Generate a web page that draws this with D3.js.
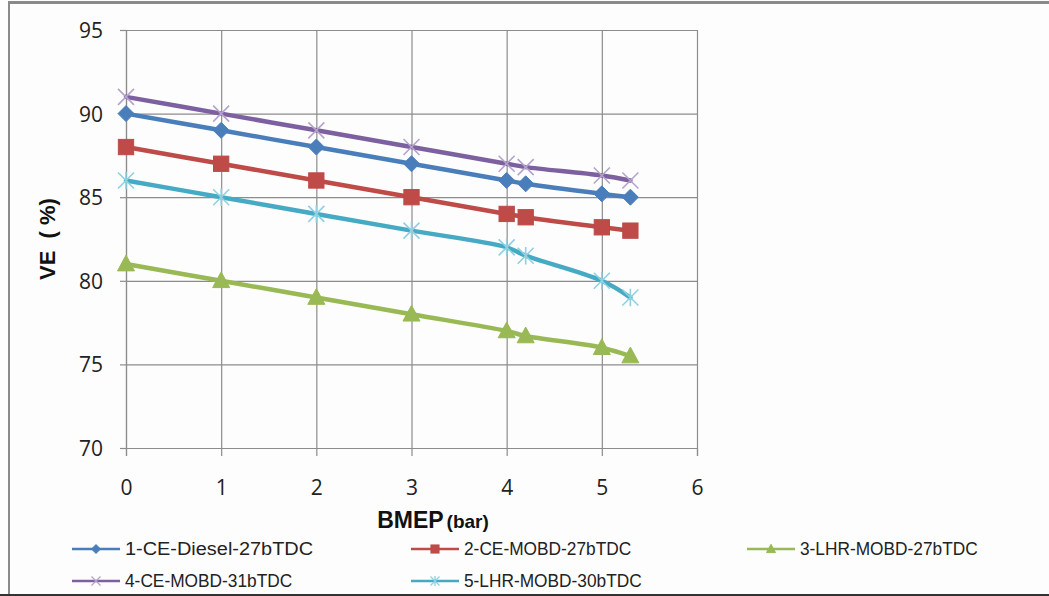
<!DOCTYPE html>
<html>
<head>
<meta charset="utf-8">
<script src="https://cdn.jsdelivr.net/npm/d3@7/dist/d3.min.js"></script>
<style>
  html, body { margin: 0; padding: 0; background: #fff; }
  svg { display: block; }
</style>
</head>
<body>
<svg id="chart" width="1049" height="596"></svg>
<script>
// BMEP load points (bar)
const bmep = [0, 1, 2, 3, 4, 4.2, 5, 5.3];

// Volumetric efficiency (%) for each engine configuration
const seriesNames = [
  "1-CE-Diesel-27bTDC",
  "2-CE-MOBD-27bTDC",
  "3-LHR-MOBD-27bTDC",
  "4-CE-MOBD-31bTDC",
  "5-LHR-MOBD-30bTDC"
];
const ceDiesel27  = [90, 89, 88, 87, 86, 85.8, 85.2, 85];
const ceMobd27    = [88, 87, 86, 85, 84, 83.8, 83.2, 83];
const lhrMobd27   = [81, 80, 79, 78, 77, 76.7, 76.0, 75.5];
const ceMobd31    = [91, 90, 89, 88, 87, 86.8, 86.3, 86];
const lhrMobd30   = [86, 85, 84, 83, 82, 81.5, 80, 79];

const xTicks = [0, 1, 2, 3, 4, 5, 6];
const yTicks = [70, 75, 80, 85, 90, 95];

const seriesValues = [ceDiesel27, ceMobd27, lhrMobd27, ceMobd31, lhrMobd30];
const lineColors   = ["#4a7ebb", "#be4b48", "#98b954", "#7d60a0", "#46aac4"];
const markerFill   = ["#4a7ebb", "#be4b48", "#98b954", "none", "none"];
const markerStroke = ["#4a7ebb", "#be4b48", "#98b954", "#b4a3cc", "#8fd0e2"];
const markerKinds  = ["diamond", "square", "triangle", "cross", "asterisk"];

const svg = d3.select("#chart");

// frame
svg.append("rect").attr("x", 0).attr("y", 0).attr("width", 1049).attr("height", 596).attr("fill", "#fdfdfd");
svg.append("line").attr("x1", 8).attr("x2", 1049).attr("y1", 2.5).attr("y2", 2.5)
  .attr("stroke", "#8a8a8a").attr("stroke-width", 3);
svg.append("line").attr("x1", 9).attr("x2", 9).attr("y1", 1).attr("y2", 596)
  .attr("stroke", "#8a8a8a").attr("stroke-width", 2);
svg.append("line").attr("x1", 0).attr("x2", 1049).attr("y1", 595).attr("y2", 595)
  .attr("stroke", "#333").attr("stroke-width", 2);

const plot = { left: 126, right: 697, top: 30, bottom: 448 };
const x = d3.scaleLinear().domain([0, 6]).range([plot.left, plot.right]);
const y = d3.scaleLinear().domain([70, 95]).range([plot.bottom, plot.top]);

// gridlines via axes
const gridColor = "#8c8c8c";
const yGrid = svg.append("g").attr("transform", `translate(${plot.left},0)`)
  .call(d3.axisLeft(y).tickValues(yTicks).tickSize(-(plot.right - plot.left)).tickFormat(""));
const xGrid = svg.append("g").attr("transform", `translate(0,${plot.bottom})`)
  .call(d3.axisBottom(x).tickValues(xTicks).tickSize(-(plot.bottom - plot.top)).tickFormat(""));
[yGrid, xGrid].forEach(g => {
  g.select(".domain").remove();
  g.selectAll("line").attr("stroke", gridColor).attr("stroke-width", 1.2);
});

// outer tick marks and labels
const yAxis = svg.append("g").attr("transform", `translate(${plot.left},0)`)
  .call(d3.axisLeft(y).tickValues(yTicks).tickFormat(d3.format("d")).tickSize(6).tickPadding(17));
const xAxis = svg.append("g").attr("transform", `translate(0,${plot.bottom})`)
  .call(d3.axisBottom(x).tickValues(xTicks).tickFormat(d3.format("d")).tickSize(8).tickPadding(24));
[yAxis, xAxis].forEach(g => {
  g.select(".domain").attr("stroke", gridColor).attr("stroke-width", 1.2);
  g.selectAll("line").attr("stroke", gridColor).attr("stroke-width", 1.2);
  g.selectAll("text").attr("fill", "#222").style("font-family", "'Open Sans', sans-serif")
    .style("font-size", "21px");
});
yAxis.selectAll("text").attr("dy", "0.36em");

// axis titles
svg.append("text")
  .attr("transform", `translate(55,${(plot.top + plot.bottom) / 2}) rotate(-90)`)
  .attr("text-anchor", "middle")
  .style("white-space", "pre")
  .style("font-family", "'Liberation Sans', Arial, sans-serif")
  .style("font-weight", "bold").style("font-size", "22px").attr("fill", "#111")
  .text("VE  ( %)");

const xt = svg.append("text").attr("x", 433).attr("y", 528).attr("text-anchor", "middle")
  .style("font-family", "'Liberation Sans', Arial, sans-serif").attr("fill", "#111");
xt.append("tspan").style("font-weight", "bold").style("font-size", "23px").text("BMEP");
xt.append("tspan").style("font-weight", "bold").style("font-size", "19px").attr("dx", 3).text("(bar)");

// marker drawing
function drawMarker(g, kind, size, fill, stroke, sw) {
  const s = size / 2;
  if (kind === "diamond") {
    g.append("path").attr("d", `M0,${-s}L${s},0L0,${s}L${-s},0Z`).attr("fill", fill).attr("stroke", stroke);
  } else if (kind === "square") {
    const q = s * 0.9;
    g.append("rect").attr("x", -q).attr("y", -q).attr("width", 2 * q).attr("height", 2 * q)
      .attr("fill", fill).attr("stroke", stroke);
  } else if (kind === "triangle") {
    g.append("path").attr("d", `M0,${-s * 1.05}L${s},${s * 0.8}L${-s},${s * 0.8}Z`).attr("fill", fill).attr("stroke", stroke);
  } else if (kind === "cross") {
    g.append("path").attr("d", `M${-s},${-s}L${s},${s}M${-s},${s}L${s},${-s}`)
      .attr("stroke", stroke).attr("stroke-width", sw).attr("fill", "none");
  } else if (kind === "asterisk") {
    g.append("path").attr("d", `M${-s},${-s}L${s},${s}M${-s},${s}L${s},${-s}M0,${-s * 1.1}L0,${s * 1.1}`)
      .attr("stroke", stroke).attr("stroke-width", sw).attr("fill", "none");
  }
}

const line = d3.line().x(d => x(d[0])).y(d => y(d[1])).curve(d3.curveCatmullRom.alpha(0.5));

// draw series (lines then markers)
const order = [2, 4, 1, 0, 3];
order.forEach(i => {
  const pts = bmep.map((b, j) => [b, seriesValues[i][j]]);
  svg.append("path").datum(pts).attr("d", line)
    .attr("fill", "none").attr("stroke", lineColors[i]).attr("stroke-width", 4.5)
    .attr("stroke-linejoin", "round").attr("stroke-linecap", "round");
  pts.forEach(p => {
    const g = svg.append("g").attr("transform", `translate(${x(p[0])},${y(p[1])})`);
    const size = markerKinds[i] === "square" ? 17 : (markerKinds[i] === "triangle" ? 17 : 16);
    drawMarker(g, markerKinds[i], size, markerFill[i], markerStroke[i], 1.6);
  });
});

// legend
const legendPos = [
  { lx: 72, ly: 549 }, { lx: 411, ly: 549 }, { lx: 747, ly: 549 },
  { lx: 72, ly: 581 }, { lx: 411, ly: 581 }
];
seriesNames.forEach((name, i) => {
  const p = legendPos[i];
  const g = svg.append("g").attr("transform", `translate(${p.lx},${p.ly})`);
  g.append("line").attr("x1", 0).attr("x2", 48).attr("y1", 0).attr("y2", 0)
    .attr("stroke", lineColors[i]).attr("stroke-width", 2.5);
  const m = g.append("g").attr("transform", "translate(24,0)");
  drawMarker(m, markerKinds[i], 9, markerFill[i], markerStroke[i], 1.3);
  g.append("text").attr("x", 53).attr("y", 0).attr("dy", "0.36em")
    .style("font-family", "'Liberation Sans', Arial, sans-serif").style("font-size", "18px")
    .attr("fill", "#222")
    .attr("textLength", name.length * 10.45).attr("lengthAdjust", "spacingAndGlyphs")
    .text(name);
});
</script>
</body>
</html>
